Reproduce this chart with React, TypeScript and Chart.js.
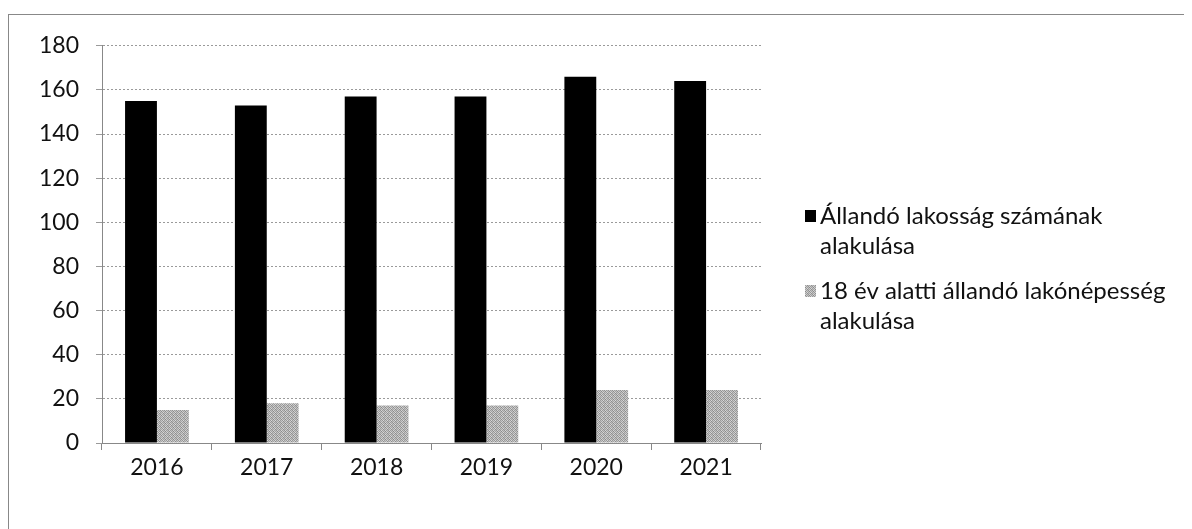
import React, { useEffect, useRef } from "react";
import { Chart, registerables } from "chart.js";

Chart.register(...registerables);

const years = ["2016", "2017", "2018", "2019", "2020", "2021"];
const allPopulation = [155, 153, 157, 157, 166, 164];
const under18Population = [15, 18, 17, 17, 24, 24];
const seriesLabels = [
  ["Állandó lakosság számának", "alakulása"],
  ["18 év alatti állandó lakónépesség", "alakulása"],
];
const yMax = 180;
const yStep = 20;

const FONT = "Lato, 'Open Sans', sans-serif";

function makePattern(): CanvasPattern | string {
  const c = document.createElement("canvas");
  c.width = 4;
  c.height = 4;
  const ctx = c.getContext("2d");
  if (!ctx) return "#b0b0b0";
  const shades = [
    ["#8a8a8a", "#d0d0d0", "#a0a0a0", "#c4c4c4"],
    ["#c8c8c8", "#969696", "#d8d8d8", "#9a9a9a"],
    ["#a4a4a4", "#cfcfcf", "#8e8e8e", "#bcbcbc"],
    ["#d4d4d4", "#9c9c9c", "#c0c0c0", "#929292"],
  ];
  for (let y = 0; y < 4; y++)
    for (let x = 0; x < 4; x++) {
      ctx.fillStyle = shades[y][x];
      ctx.fillRect(x, y, 1, 1);
    }
  return ctx.createPattern(c, "repeat") || "#b0b0b0";
}

export default function App() {
  const ref = useRef<HTMLCanvasElement | null>(null);
  useEffect(() => {
    if (!ref.current) return;
    const pattern = makePattern();
    const legendPlugin = {
      id: "sideLegend",
      afterDraw(chart: any) {
        const ctx = chart.ctx;
        ctx.save();
        ctx.font = `24px ${FONT}`;
        ctx.textBaseline = "middle";
        const x0 = 796;
        const starts = [201, 276];
        chart.data.datasets.forEach((ds: any, i: number) => {
          const y = starts[i];
          ctx.fillStyle = ds.backgroundColor;
          ctx.fillRect(x0, y - 6, 11, 12);
          ctx.fillStyle = "#111";
          (ds.legendLines as string[]).forEach((line, j) => {
            ctx.fillText(line, x0 + 15, y + j * 30);
          });
        });
        ctx.restore();
      },
    };
    const chart = new Chart(ref.current, {
      type: "bar",
      data: {
        labels: years,
        datasets: [
          {
            label: seriesLabels[0].join(" "),
            data: allPopulation,
            backgroundColor: "#000000",
            legendLines: seriesLabels[0],
          } as any,
          {
            label: seriesLabels[1].join(" "),
            data: under18Population,
            backgroundColor: pattern,
            legendLines: seriesLabels[1],
          } as any,
        ],
      },
      options: {
        animation: false,
        responsive: false,
        maintainAspectRatio: false,
        layout: { padding: { left: 0, right: 428, top: 30, bottom: 0 } },
        plugins: { legend: { display: false }, tooltip: { enabled: false } },
        datasets: { bar: { categoryPercentage: 0.58, barPercentage: 1 } },
        scales: {
          x: {
            grid: {
              drawOnChartArea: false,
              drawTicks: true,
              tickLength: 7,
              color: "#888",
              offset: true,
            },
            border: { color: "#888" },
            ticks: { color: "#111", font: { family: FONT, size: 23 }, padding: 4 },
            afterFit(s: any) {
              s.height = 86;
            },
          },
          y: {
            min: 0,
            max: yMax,
            grid: { color: "#9a9a9a", tickLength: 6, tickBorderDash: [] } as any,
            border: { color: "#888", dash: [2, 2] },
            ticks: {
              stepSize: yStep,
              color: "#111",
              font: { family: FONT, size: 23 },
              padding: 17,
            },
            afterFit(s: any) {
              s.width = 93;
            },
          },
        },
      },
      plugins: [legendPlugin],
    } as any);
    return () => chart.destroy();
  }, []);
  return (
    <div
      style={{
        marginTop: 6,
        width: 1180,
        height: 514,
        border: "1px solid #888",
        boxSizing: "content-box",
      }}
    >
      <canvas ref={ref} width={1180} height={514} />
    </div>
  );
}
